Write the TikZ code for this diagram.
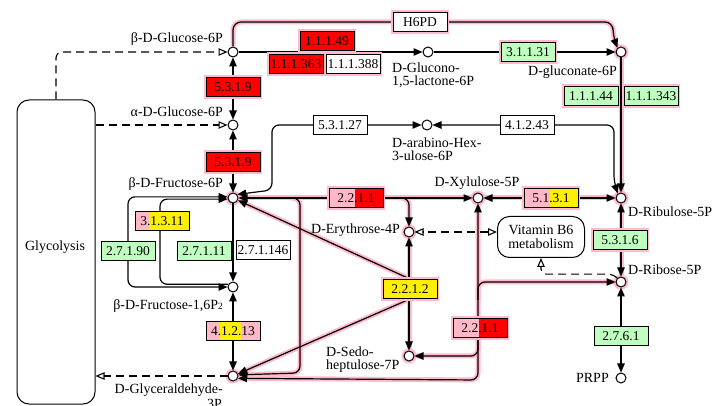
\documentclass[tikz,border=0pt]{standalone}
\usepackage{fontspec}
\setmainfont{Liberation Serif}
\usetikzlibrary{arrows.meta,calc}
\definecolor{kred}{HTML}{FF0000}
\definecolor{kpink}{HTML}{FFB8C8}
\definecolor{kyel}{HTML}{FFF000}
\definecolor{kgrn}{HTML}{BFFFBF}
\definecolor{khalo}{HTML}{FFBACB}
\pgfdeclarelayer{hal}\pgfdeclarelayer{lin}\pgfsetlayers{hal,lin,main}
\tikzset{
 cpd/.style={circle,draw,fill=white,line width=1pt,minimum size=10pt,inner sep=0pt},
 lbl/.style={inner sep=0pt,font=\fontsize{14}{12.5}\selectfont},
 ec/.style={draw,line width=0.9pt,minimum width=54pt,minimum height=19pt,inner sep=1.5pt,font=\fontsize{13.5}{14}\selectfont,fill=white},
 ehl/.style={preaction={draw=khalo,line width=4.5pt}},
 tt/.style n args={3}{fill=#2,path picture={\fill[#1] (path picture bounding box.south west) rectangle ([xshift=#3]path picture bounding box.north west);}},
 ln/.style={line width=1.2pt,draw=black},
 hls/.style={draw=khalo,line width=5pt},
 dsh/.style={line width=1.1pt,dash pattern=on 8pt off 5pt,>={Triangle[open,length=9pt,width=7.5pt,fill=white]}},
}
\newcommand\hlpath[2]{%
 \begin{pgfonlayer}{hal}\draw[hls,#1,-]#2;\end{pgfonlayer}%
 \begin{pgfonlayer}{lin}\draw[ln,#1]#2;\end{pgfonlayer}}
\newcommand\blpath[2]{\begin{pgfonlayer}{lin}\draw[ln,#1]#2;\end{pgfonlayer}}
\begin{document}
\begin{tikzpicture}[x=1pt,y=-1pt,>={Triangle[length=9pt,width=7.5pt]}]
\useasboundingbox (0,0) rectangle (713,406);
% glycolysis
\node[draw,line width=1pt,rounded corners=12pt,minimum width=78pt,minimum height=304pt,inner sep=0pt] (glyc) at (56,252) {};
\node[lbl,anchor=base] (glyclbl) at (55,251) {Glycolysis};
% compounds
\node[cpd] (bg6p) at (233,52) {};
\node[cpd] (ag6p) at (233,125) {};
\node[cpd] (f6p) at (233,198) {};
\node[cpd] (fbp) at (233,287) {};
\node[cpd] (g3p) at (233,376) {};
\node[cpd] (glac) at (428,52) {};
\node[cpd] (gl6p) at (621,52) {};
\node[cpd] (ahu) at (427,125) {};
\node[cpd] (xu5p) at (478,198) {};
\node[cpd] (e4p) at (409,232) {};
\node[cpd] (s7p) at (409,356) {};
\node[cpd] (ru5p) at (621,198) {};
\node[cpd] (r5p) at (621,282) {};
\node[cpd] (prpp) at (621,378) {};
\begin{pgfonlayer}{hal}
\foreach \c in {f6p,g3p,e4p,s7p,xu5p,r5p,ru5p,gl6p}{\fill[khalo] (\c) circle (7.5pt);}
\end{pgfonlayer}
% map
\node[draw,rounded corners=12pt,line width=1pt,minimum width=87pt,minimum height=41pt,align=center,inner sep=1pt,font=\fontsize{14}{14}\selectfont,fill=white] (vb6) at (541,237) {Vitamin B6\\metabolism};
% enzymes
\node[ec,ehl] (h6pd) at (420,22) {H6PD};
\node[ec,ehl,fill=kred] (e1) at (327,41) {1.1.1.49};
\node[ec,ehl,fill=kred] (e2) at (296,64) {1.1.1.363};
\node[ec,ehl] (e3) at (353,64) {1.1.1.388};
\node[ec,ehl,fill=kgrn] (e4) at (528,52) {3.1.1.31};
\node[ec,ehl,fill=kgrn] (e5) at (591,96) {1.1.1.44};
\node[ec,ehl,fill=kgrn] (e6) at (651,96) {1.1.1.343};
\node[ec] (e7) at (340,125) {5.3.1.27};
\node[ec] (e8) at (527,125) {4.1.2.43};
\node[ec,ehl,fill=kred] (e9) at (233,87) {5.3.1.9};
\node[ec,ehl,fill=kred] (e10) at (233,162) {5.3.1.9};
\node[ec,tt={kpink}{kyel}{14pt}] (e11) at (162,221) {3.1.3.11};
\node[ec,fill=kgrn] (e12) at (128,251) {2.7.1.90};
\node[ec,fill=kgrn] (e13) at (204,251) {2.7.1.11};
\node[ec] (e14) at (263,250) {2.7.1.146};
\node[ec,fill=kpink,path picture={\fill[kyel] ([xshift=14pt]path picture bounding box.south west) rectangle ([xshift=35pt]path picture bounding box.north west);}] (e15) at (233,331) {4.1.2.13};
\node[ec,ehl,tt={kpink}{kred}{26pt}] (e16) at (356,198) {2.2.1.1};
\node[ec,ehl,fill=kyel] (e17) at (410,289) {2.2.1.2};
\node[ec,ehl,tt={kpink}{kred}{26pt}] (e18) at (480,328) {2.2.1.1};
\node[ec,ehl,tt={kpink}{kyel}{26pt}] (e19) at (551,198) {5.1.3.1};
\node[ec,ehl,fill=kgrn] (e20) at (620,240) {5.3.1.6};
\node[ec,fill=kgrn] (e21) at (621,336) {2.7.6.1};
% labels
\node[lbl,anchor=base east] (l1) at (223,43) {β-D-Glucose-6P};
\node[lbl,anchor=base east] (l2) at (223,117) {α-D-Glucose-6P};
\node[lbl,anchor=base east] (l3) at (223,188) {β-D-Fructose-6P};
\node[lbl,anchor=base east] (l4) at (223,310) {β-D-Fructose-1,6P{\fontsize{9.5}{9}\selectfont 2}};
\node[lbl,anchor=base east] (l5) at (223,394) {D-Glyceraldehyde-};
\node[lbl,anchor=base east] (l5b) at (222,408) {3P};
\node[lbl,anchor=north west,align=left] (l6) at (392,63) {D-Glucono-\\1,5-lactone-6P};
\node[lbl,anchor=base east] (l7) at (617,76) {D-gluconate-6P};
\node[lbl,anchor=north west,align=left] (l8) at (392,138) {D-arabino-Hex-\\3-ulose-6P};
\node[lbl,anchor=base] (l9) at (477,187) {D-Xylulose-5P};
\node[lbl,anchor=base east] (l10) at (400,234) {D-Erythrose-4P};
\node[lbl,anchor=base west] (l11) at (628,217) {D-Ribulose-5P};
\node[lbl,anchor=base west] (l12) at (628,275) {D-Ribose-5P};
\node[lbl,anchor=north west,align=left] (l13) at (326,347) {D-Sedo-\\heptulose-7P};
\node[lbl,anchor=base east] (l14) at (609,383) {PRPP};
% dashed links
\begin{pgfonlayer}{lin}
\draw[dsh,->,rounded corners=6pt] (glyc.north) |- (bg6p.west);
\draw[dsh,->] (glyc.east |- ag6p) -- (ag6p.west);
\draw[dsh,->] (g3p.west) -- (glyc.east |- g3p);
\draw[dsh,<->] (vb6.west |- e4p) -- (e4p.east);
\draw[dsh,->,rounded corners=5pt] (r5p.north west) -- ++(-4,-4) -| (vb6.south);
\end{pgfonlayer}
% plain reactions
\blpath{->}{(bg6p) -- (glac)}
\blpath{->}{(glac) -- (gl6p)}
\blpath{<->}{(bg6p) -- (ag6p)}
\blpath{<->}{(ag6p) -- (f6p)}
\blpath{->}{(f6p) -- (fbp)}
\blpath{<->}{(fbp) -- (g3p)}
\blpath{<->,rounded corners=7pt}{(ahu.west) -| (272,190) -- (f6p.40)}
\blpath{<->,rounded corners=7pt}{(ahu.east) -| (614,182) -- (ru5p.125)}
\blpath{<->,rounded corners=7pt}{(f6p.168) -| (128,240) |- (fbp.west)}
\blpath{->,rounded corners=7pt}{(fbp.150) -| (160,240) |- (f6p.192)}
\blpath{<->}{(r5p) -- (prpp)}
% highlighted reactions
\hlpath{->,rounded corners=8pt}{(bg6p.north) -- (233,22) -- (613,22) -- (613,36) -- (gl6p.130)}
\hlpath{->}{(gl6p) -- (ru5p)}
\hlpath{<->}{(f6p) -- (xu5p)}
\hlpath{->,rounded corners=7pt}{(290,198) -- (300,198) -- (300,373) -- (g3p.12)}
\hlpath{->,rounded corners=7pt}{(395,198) -- (409,198) -- (e4p.north)}
\hlpath{->}{(e4p |- e17.north) -- (e4p)}
\hlpath{->}{(e17.north) -- (f6p)}
\hlpath{->}{(s7p |- e17.south) -- (s7p)}
\hlpath{->}{(e17.south) -- (g3p)}
\hlpath{<->,rounded corners=7pt}{(xu5p) -- (478,380) -- (g3p.-25)}
\hlpath{->,rounded corners=7pt}{(478,300) -- (478,282) -- (r5p.west)}
\hlpath{->,rounded corners=7pt}{(478,340) -- (478,356) -- (s7p.east)}
\hlpath{<->}{(xu5p) -- (ru5p)}
\hlpath{<->}{(ru5p) -- (r5p)}
\end{tikzpicture}
\end{document}
